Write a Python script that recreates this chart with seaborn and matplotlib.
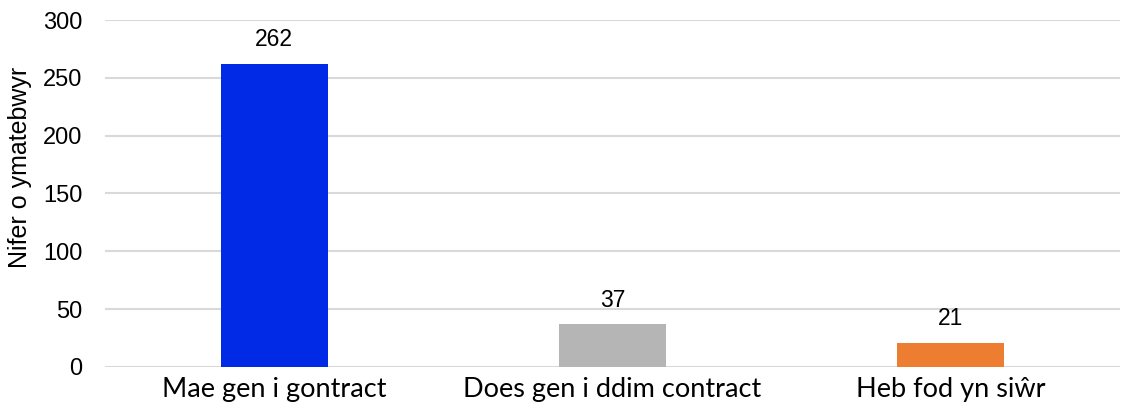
import matplotlib
matplotlib.use("Agg")
import matplotlib.pyplot as plt
import seaborn as sns
import pandas as pd

# --- datos ---
categorias = ["Mae gen i gontract", "Does gen i ddim contract", "Heb fod yn siŵr"]
valores = [262, 37, 21]
colores = ["#002AE6", "#B5B5B6", "#ED7D31"]
yticks = [0, 50, 100, 150, 200, 250, 300]

df = pd.DataFrame({"categoria": categorias, "n": valores})

sns.set_theme(style="white")
plt.rcParams["font.family"] = ["Liberation Sans", "DejaVu Sans"]
plt.rcParams["text.color"] = "black"
plt.rcParams["xtick.color"] = "black"
plt.rcParams["ytick.color"] = "black"
plt.rcParams["axes.labelcolor"] = "black"

fig = plt.figure(figsize=(11.25, 4.17), dpi=100)
ax = fig.add_axes([0.0933, 0.12, 0.9023, 0.832])

sns.barplot(data=df, x="categoria", y="n", hue="categoria", palette=colores,
            width=0.316, legend=False, saturation=1, linewidth=0, ax=ax, zorder=3)

for c in ax.containers:
    ax.bar_label(c, fmt="%d", padding=9, fontsize=16.5, color="black")

ax.set_ylim(0, 300)
ax.set_yticks(yticks)
ax.set_yticklabels([str(t) for t in yticks], fontsize=17)
ax.yaxis.grid(True, color="#D9D9D9", linewidth=1.5, zorder=0)
ax.set_axisbelow(True)
ax.tick_params(axis="both", length=0)
ax.tick_params(axis="y", pad=16)
ax.tick_params(axis="x", pad=7)
for lbl in ax.get_xticklabels():
    lbl.set_family(["Lato", "DejaVu Sans"])
    lbl.set_fontsize(19.5)

ax.set_xlabel("")
ax.set_ylabel("Nifer o ymatebwyr", fontsize=18)
ax.yaxis.set_label_coords(-0.072, 0.576)
sns.despine(left=True, bottom=True)

fig.savefig("out.png", dpi=100)
